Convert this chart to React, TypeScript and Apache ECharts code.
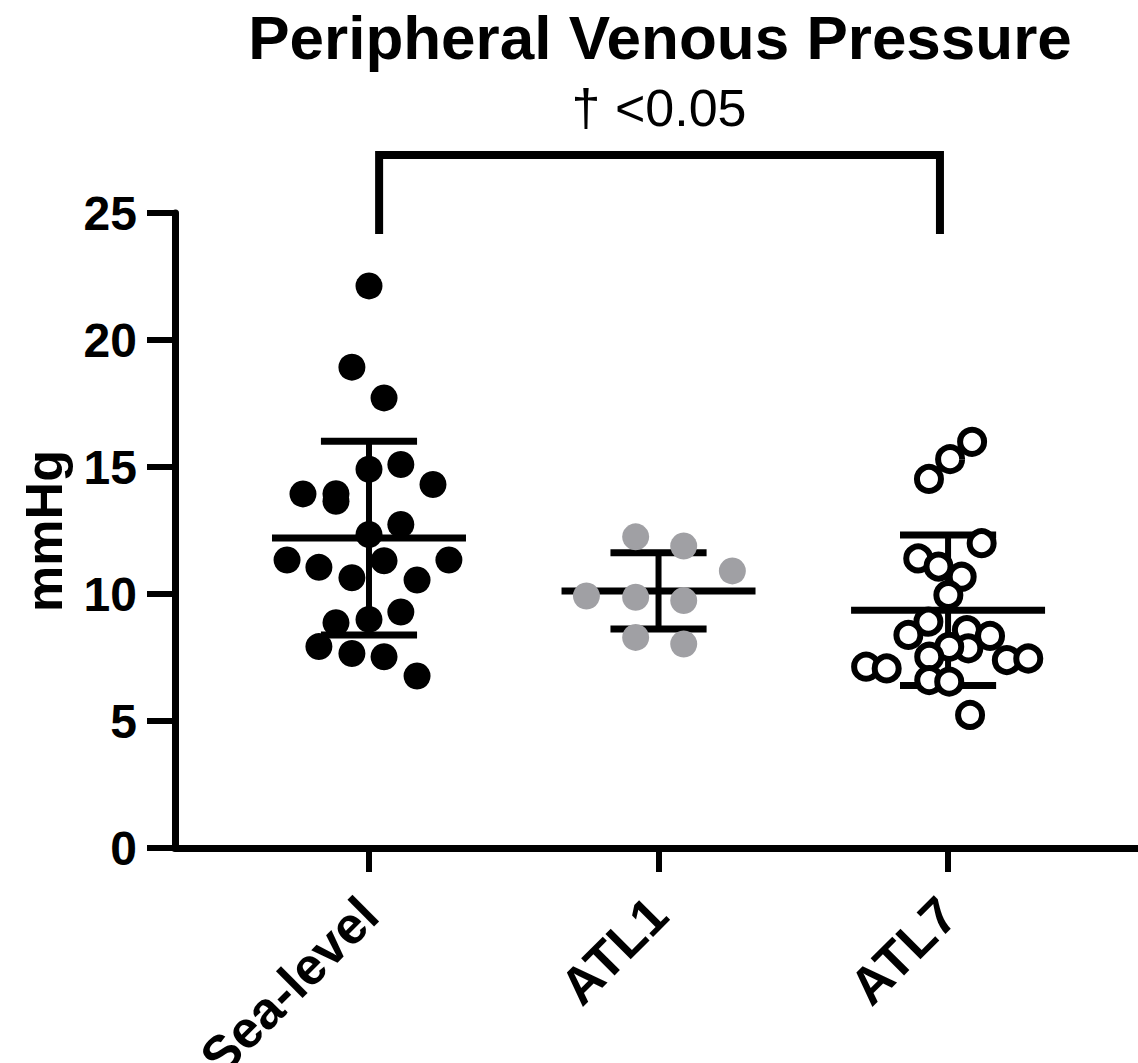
import React, { useEffect, useRef } from "react";
import * as echarts from "echarts";

const categories = ["Sea-level", "ATL1", "ATL7"];

const seaLevelValues = [22.13, 18.93, 17.72, 15.1, 14.91, 14.31, 13.94, 13.95, 13.65, 12.74, 12.34, 11.34, 11.31, 11.34, 11.05, 10.64, 10.55, 9.29, 9.0, 8.87, 7.93, 7.66, 7.53, 6.77];
const seaLevelJitter = [0, -0.059, 0.052, 0.11, 0, 0.221, -0.228, -0.114, -0.114, 0.11, 0, -0.283, 0.052, 0.276, -0.173, -0.059, 0.166, 0.11, 0, -0.114, -0.173, -0.059, 0.052, 0.166];

const atl1Values = [12.25, 11.89, 10.91, 9.92, 9.87, 9.74, 8.29, 8.03];
const atl1Jitter = [-0.079, 0.087, 0.255, -0.249, -0.079, 0.087, -0.079, 0.087];

const atl7Values = [15.99, 15.31, 14.53, 12.0, 11.4, 11.08, 10.68, 9.96, 8.91, 8.39, 8.58, 8.35, 7.86, 7.92, 7.53, 7.14, 7.07, 7.4, 7.46, 6.61, 6.55, 5.24];
const atl7Jitter = [0.083, 0.007, -0.066, 0.116, -0.103, -0.033, 0.047, 0.001, -0.068, -0.137, 0.065, 0.145, 0.07, 0.004, -0.065, -0.283, -0.212, 0.203, 0.277, -0.065, 0.004, 0.076];

const groupMeans = [12.2, 10.12, 9.36];
const groupSDs = [3.81, 1.5, 2.96];

const yTicks = [0, 5, 10, 15, 20, 25];
const xTickValues = [0, 1, 2];

const bracketX = [0.035, 1.972];
const bracketY = [24.17, 27.28];
const titleText = "Peripheral Venous Pressure";
const pLabel = "† <0.05";
const yAxisName = "mmHg";

const FONT = '"Liberation Sans", Arial, Helvetica, sans-serif';

function toPoints(groupIndex: number, values: number[], jitter: number[]) {
  return values.map((v, i) => [groupIndex + jitter[i], v]);
}

export default function App() {
  const ref = useRef<HTMLDivElement>(null);

  useEffect(() => {
    if (!ref.current) return;
    const chart = echarts.init(ref.current, undefined, { renderer: "svg" });

    const MEAN_HALF = 0.335;
    const CAP_HALF = 0.166;

    const option: any = {
      animation: false,
      backgroundColor: "#ffffff",
      grid: { left: 175, right: 0, top: 213, bottom: 215, containLabel: false, outerBoundsMode: "none" },
      xAxis: {
        type: "value",
        min: -0.67,
        max: 2.656,
        splitLine: { show: false },
        axisLine: { show: true, onZero: false, lineStyle: { color: "#000", width: 7 } },
        axisTick: {
          show: true,
          customValues: xTickValues,
          length: 24,
          lineStyle: { color: "#000", width: 6 },
        },
        axisLabel: {
          show: true,
          customValues: xTickValues,
          rotate: 45,
          margin: 58,
          color: "#000",
          fontSize: 52,
          fontWeight: "bold",
          fontFamily: FONT,
          formatter: (v: number) => categories[Math.round(v)] ?? "",
        },
      },
      yAxis: {
        type: "value",
        min: 0,
        max: 25,
        interval: 5,
        splitLine: { show: false },
        axisLine: { show: true, onZero: false, lineStyle: { color: "#000", width: 7 } },
        axisTick: { show: true, length: 28, lineStyle: { color: "#000", width: 6 } },
        axisLabel: {
          show: true,
          margin: 38,
          color: "#000",
          fontSize: 48,
          fontWeight: "bold",
          fontFamily: FONT,
          customValues: yTicks,
        },
      },
      graphic: [
        {
          type: "text",
          x: 660,
          y: 37,
          style: {
            text: titleText,
            font: `bold 62px ${FONT}`,
            fill: "#000",
            align: "center",
            verticalAlign: "middle",
          },
        },
        {
          type: "text",
          x: 659,
          y: 108,
          style: {
            text: pLabel,
            font: `52px ${FONT}`,
            fill: "#000",
            align: "center",
            verticalAlign: "middle",
          },
        },
        {
          type: "text",
          x: 44,
          y: 531,
          rotation: Math.PI / 2,
          style: {
            text: yAxisName,
            font: `bold 52px ${FONT}`,
            fill: "#000",
            align: "center",
            verticalAlign: "middle",
          },
        },
      ],
      series: [
        {
          type: "custom",
          z: 2,
          silent: true,
          data: groupMeans.map((m, i) => [i, m, groupSDs[i]]),
          renderItem: (params: any, api: any) => {
            const x = api.value(0);
            const m = api.value(1);
            const sd = api.value(2);
            const mL = api.coord([x - MEAN_HALF, m]);
            const mR = api.coord([x + MEAN_HALF, m]);
            const tL = api.coord([x - CAP_HALF, m + sd]);
            const tR = api.coord([x + CAP_HALF, m + sd]);
            const bL = api.coord([x - CAP_HALF, m - sd]);
            const bR = api.coord([x + CAP_HALF, m - sd]);
            const top = api.coord([x, m + sd]);
            const bot = api.coord([x, m - sd]);
            const st = (w: number) => ({ stroke: "#000", lineWidth: w, lineCap: "butt" });
            return {
              type: "group",
              children: [
                { type: "line", shape: { x1: top[0], y1: top[1], x2: bot[0], y2: bot[1] }, style: st(6) },
                { type: "line", shape: { x1: mL[0], y1: mL[1], x2: mR[0], y2: mR[1] }, style: st(7) },
                { type: "line", shape: { x1: tL[0], y1: tL[1], x2: tR[0], y2: tR[1] }, style: st(7) },
                { type: "line", shape: { x1: bL[0], y1: bL[1], x2: bR[0], y2: bR[1] }, style: st(7) },
              ],
            };
          },
        },
        {
          type: "scatter",
          name: categories[0],
          z: 3,
          symbol: "circle",
          symbolSize: 27,
          itemStyle: { color: "#000", opacity: 1 },
          data: toPoints(0, seaLevelValues, seaLevelJitter),
        },
        {
          type: "scatter",
          name: categories[1],
          z: 3,
          symbol: "circle",
          symbolSize: 27,
          itemStyle: { color: "#a0a0a4", opacity: 1 },
          data: toPoints(1, atl1Values, atl1Jitter),
        },
        {
          type: "scatter",
          name: categories[2],
          z: 3,
          symbol: "circle",
          symbolSize: 24,
          itemStyle: { color: "#fff", borderColor: "#000", borderWidth: 6, opacity: 1 },
          data: toPoints(2, atl7Values, atl7Jitter),
        },
        {
          type: "line",
          z: 4,
          silent: true,
          clip: false,
          showSymbol: false,
          symbol: "none",
          lineStyle: { color: "#000", width: 8, join: "miter", cap: "butt" },
          data: [
            [bracketX[0], bracketY[0]],
            [bracketX[0], bracketY[1]],
            [bracketX[1], bracketY[1]],
            [bracketX[1], bracketY[0]],
          ],
        },
      ],
    };

    chart.setOption(option);
    return () => {
      chart.dispose();
    };
  }, []);

  return (
    <div
      ref={ref}
      style={{ position: "absolute", left: 0, top: 0, width: 1138, height: 1063, background: "#fff" }}
    />
  );
}
